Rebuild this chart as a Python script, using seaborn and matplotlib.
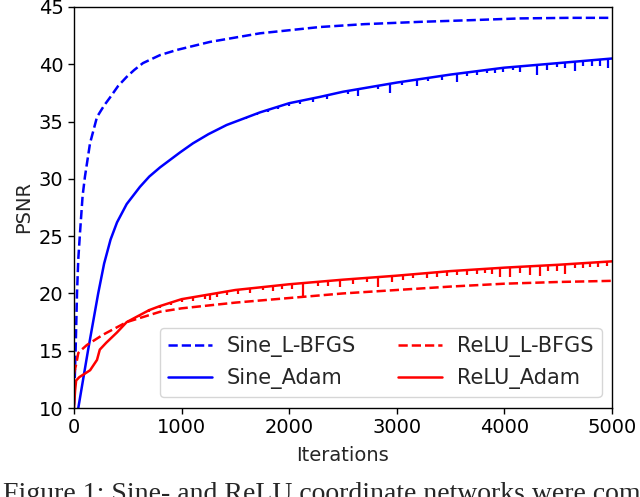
import numpy as np
import pandas as pd
import matplotlib
matplotlib.use("Agg")
import matplotlib.pyplot as plt
import seaborn as sns

# ---------------- data ----------------
sine_lbfgs_it = [0, 15, 28, 40, 56, 80, 102, 149, 214, 280, 335, 410, 490, 560,
                 641, 800, 957, 1264, 1729, 2286, 2700, 3216, 3700, 4145, 4600, 5000]
sine_lbfgs_v = [10.3, 15.0, 20.0, 23.0, 25.3, 28.5, 30.2, 33.1, 35.4, 36.4, 37.1,
                38.1, 38.9, 39.5, 40.1, 40.8, 41.25, 41.95, 42.7, 43.25, 43.5,
                43.7, 43.85, 44.0, 44.05, 44.05]

sine_adam_it = [40, 130, 225, 280, 340, 400, 490, 613, 700, 800, 985, 1106, 1250,
                1419, 1729, 2000, 2286, 2500, 3000, 3500, 4000, 4500, 5000]
sine_adam_v = [10.0, 15.0, 20.0, 22.6, 24.7, 26.2, 27.8, 29.3, 30.2, 31.0, 32.3,
               33.1, 33.9, 34.7, 35.8, 36.6, 37.15, 37.6, 38.4, 39.1, 39.7, 40.1,
               40.5]

relu_lbfgs_it = [0, 20, 40, 60, 120, 270, 490, 800, 1000, 1500, 2000, 2500, 3000,
                 3500, 4000, 4500, 5000]
relu_lbfgs_v = [13.0, 13.8, 14.8, 15.0, 15.5, 16.4, 17.5, 18.4, 18.7, 19.2, 19.6,
                20.0, 20.3, 20.6, 20.85, 21.0, 21.1]

relu_adam_it = [0, 10, 20, 50, 84, 150, 214, 240, 300, 400, 490, 700, 800, 1000,
                1500, 2000, 2500, 3000, 3500, 4000, 4500, 5000]
relu_adam_v = [10.0, 11.5, 12.4, 12.7, 12.9, 13.3, 14.2, 15.1, 15.7, 16.6, 17.5,
               18.55, 18.9, 19.5, 20.3, 20.8, 21.2, 21.55, 21.95, 22.25, 22.5, 22.8]

# periodic downward spikes of the Adam curves: iteration and depth (PSNR)
sine_dip_it = [1600, 1700, 1800, 1900, 2000, 2100, 2221, 2351, 2546, 2639, 2825,
               2937, 3048, 3188, 3290, 3420, 3559, 3652, 3745, 3838, 3912, 3987,
               4080, 4145, 4303, 4396, 4489, 4563, 4656, 4730, 4814, 4888, 4963]
sine_dip_d = [0.15, 0.15, 0.2, 0.2, 0.2, 0.25, 0.3, 0.3, 0.3, 0.6, 0.3,
              0.8, 0.3, 0.6, 0.3, 0.4, 0.7, 0.3, 0.35, 0.3, 0.35, 0.4,
              0.3, 0.5, 0.9, 0.5, 0.35, 0.5, 0.8, 0.4, 0.5, 0.6, 0.8]

relu_dip_it = [600, 700, 800, 900, 1000, 1106, 1217, 1264, 1329, 1422, 1524, 1636,
               1757, 1850, 1933, 2026, 2128, 2268, 2361, 2472, 2593, 2723, 2825,
               2955, 3058, 3150, 3281, 3374, 3467, 3559, 3652, 3745, 3820, 3885,
               3959, 4052, 4145, 4238, 4331, 4405, 4489, 4563, 4656, 4730, 4796,
               4870, 4954]
relu_dip_d = [0.1, 0.15, 0.2, 0.2, 0.25, 0.3, 0.3, 0.5, 0.3, 0.3, 0.35, 0.4,
              0.3, 0.4, 0.35, 0.4, 1.1, 0.4, 0.4, 0.6, 0.4, 0.4, 0.9,
              0.5, 0.4, 0.35, 0.4, 0.4, 0.4, 0.4, 0.4, 0.4, 0.4, 0.5,
              0.8, 0.8, 0.5, 0.8, 0.9, 0.5, 0.5, 0.8, 0.4, 0.4, 0.4,
              0.4, 0.4]

x_ticks = [0, 1000, 2000, 3000, 4000, 5000]
y_ticks = [10, 15, 20, 25, 30, 35, 40, 45]
caption = "Figure 1: Sine- and ReLU coordinate networks were compared"

# ---------------- plotting ----------------
sns.set_theme(style="ticks")
plt.rcParams["font.family"] = ["DejaVu Sans"]

fig = plt.figure(figsize=(6.4, 4.97), dpi=100)
ax = fig.add_axes([0.1156, 0.179, 0.8404, 0.807])

series = [
    ("Sine_L-BFGS", sine_lbfgs_it, sine_lbfgs_v, "blue", "--"),
    ("Sine_Adam", sine_adam_it, sine_adam_v, "blue", "-"),
    ("ReLU_L-BFGS", relu_lbfgs_it, relu_lbfgs_v, "red", "--"),
    ("ReLU_Adam", relu_adam_it, relu_adam_v, "red", "-"),
]
for name, it, v, col, ls in series:
    df = pd.DataFrame({"Iterations": it, "PSNR": v})
    sns.lineplot(data=df, x="Iterations", y="PSNR", ax=ax, color=col,
                 linestyle=ls, linewidth=1.8, label=name, sort=False)

# spikes attached to the Adam curves
for it, v, dit, dd, col in [(sine_adam_it, sine_adam_v, sine_dip_it, sine_dip_d, "blue"),
                             (relu_adam_it, relu_adam_v, relu_dip_it, relu_dip_d, "red")]:
    top = np.interp(dit, it, v)
    ax.vlines(dit, top - np.array(dd), top + 0.05, color=col, linewidth=1.6)

ax.set_xlim(0, 5000)
ax.set_ylim(10, 45)
ax.set_xticks(x_ticks)
ax.set_yticks(y_ticks)
ax.tick_params(labelsize=14, length=4, width=1, colors="black")
ax.set_xlabel("Iterations", fontsize=14, labelpad=6)
ax.set_ylabel("PSNR", fontsize=14, labelpad=4)
for s in ax.spines.values():
    s.set_color("black")
    s.set_linewidth(1.0)

ax.legend(loc="lower right", ncol=2, fontsize=15, frameon=True,
          handlelength=2.1, handletextpad=0.72, columnspacing=2.0,
          borderaxespad=0.0, bbox_to_anchor=(0.981, 0.027))

fig.text(0.005, -0.009, caption, fontsize=20, family=["Liberation Serif"],
         va="baseline", ha="left")

fig.savefig("out.png", dpi=100)
